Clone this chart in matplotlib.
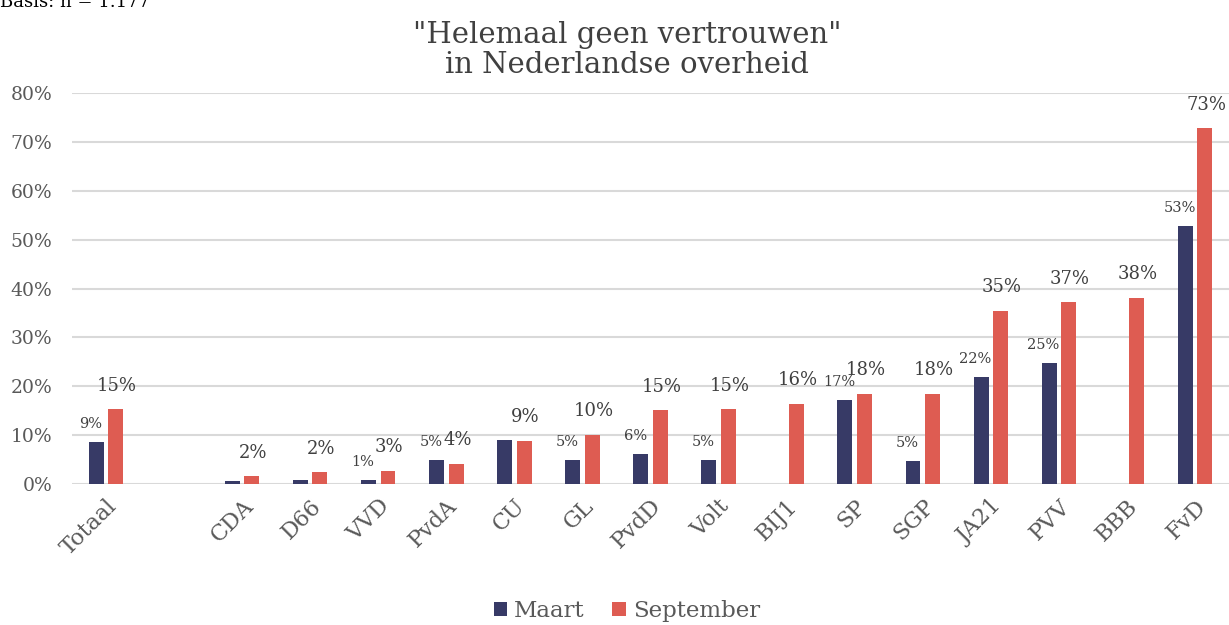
import numpy as np
import matplotlib
matplotlib.use("Agg")
import matplotlib.pyplot as plt

# data (percent, "helemaal geen vertrouwen")
parties = ["Totaal", "", "CDA", "D66", "VVD", "PvdA", "CU", "GL", "PvdD", "Volt",
           "BIJ1", "SP", "SGP", "JA21", "PVV", "BBB", "FvD"]
maart = [8.6, np.nan, 0.6, 0.8, 0.8, 4.9, 9.0, 4.9, 6.1, 5.0,
         np.nan, 17.2, 4.7, 21.8, 24.8, np.nan, 52.8]
september = [15.3, np.nan, 1.6, 2.4, 2.7, 4.1, 8.8, 10.1, 15.1, 15.3,
             16.4, 18.4, 18.4, 35.4, 37.2, 38.1, 72.8]
maart_labels = ["9%", "", "", "", "1%", "5%", "", "5%", "6%", "5%",
                "", "17%", "5%", "22%", "25%", "", "53%"]
sept_labels = ["15%", "", "2%", "2%", "3%", "4%", "9%", "10%", "15%", "15%",
               "16%", "18%", "18%", "35%", "37%", "38%", "73%"]

NAVY = "#373a66"
RED = "#de5c52"
GRAY = "#595959"

plt.rcParams["font.family"] = ["DejaVu Serif"]

fig = plt.figure(figsize=(12.29, 6.25), dpi=100)
ax = fig.add_axes([72 / 1229, 1 - 484 / 625, 1157 / 1229, 391 / 625])

x = np.arange(len(parties))
w = 0.22
off = 0.143
ax.bar(x - off, maart, w, color=NAVY, label="Maart", zorder=3)
ax.bar(x + off, september, w, color=RED, label="September", zorder=3)

for i in range(len(parties)):
    if maart_labels[i]:
        ax.annotate(maart_labels[i], (x[i] - off, maart[i]), xytext=(-4, 13),
                    textcoords="offset points", ha="center", va="center",
                    fontsize=10.5, color="#404040")
    if sept_labels[i]:
        ax.annotate(sept_labels[i], (x[i] + off, september[i]), xytext=(1, 17),
                    textcoords="offset points", ha="center", va="center",
                    fontsize=13, color="#404040")

ax.set_xlim(-0.5, len(parties) - 0.5)
ax.set_ylim(0, 80)
ax.set_yticks(np.arange(0, 81, 10))
ax.set_yticklabels([f"{v}%" for v in range(0, 81, 10)], fontsize=13.5, color=GRAY)
ax.set_xticks(x)
ax.set_xticklabels(parties, rotation=45, ha="right", rotation_mode="anchor",
                   fontsize=16, color=GRAY)
ax.tick_params(axis="both", length=0)
ax.tick_params(axis="y", pad=14)
ax.tick_params(axis="x", pad=8)
ax.grid(axis="y", color="#d9d9d9", linewidth=1.5, zorder=0)
for s in ax.spines.values():
    s.set_visible(False)

fig.text(0.51, 1 - 50 / 625, '"Helemaal geen vertrouwen"\nin Nederlandse overheid',
         ha="center", va="center", fontsize=21, color="#404040", linespacing=1.1)
fig.text(0.0, 1 - 7 / 625, "Basis: n = 1.177", ha="left", va="baseline",
         fontsize=13, color="black")

fig.legend(loc="center", bbox_to_anchor=(0.51, 1 - 611 / 625), ncol=2, frameon=False,
           fontsize=16.5, handlelength=0.6, handleheight=0.6, handletextpad=0.3,
           columnspacing=1.2, labelcolor=GRAY)

fig.savefig("out.png", dpi=100)
